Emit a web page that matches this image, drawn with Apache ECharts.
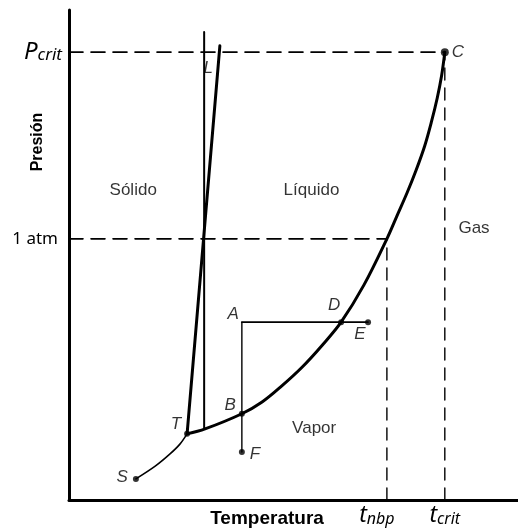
<!DOCTYPE html>
<html>
<head>
<meta charset="utf-8">
<script src="https://cdn.jsdelivr.net/npm/echarts@6/dist/echarts.min.js"></script>
<style>
html,body{margin:0;padding:0;background:#fff;}
#chart{width:518px;height:529px;}
</style>
</head>
<body>
<div id="chart"></div>
<script>
// Phase diagram data (arbitrary units: temperature 0-100, pressure 0-100)
const vaporCurve = [[26.3,13.5],[30.3,14.5],[38.5,17.6],[43.0,20.0],[47.4,23.3],[51.9,27.1],[56.4,31.6],[60.6,36.3],[65.7,43.9],[70.8,53.3],[73.0,57.9],[75.3,62.7],[77.3,67.3],[79.2,72.2],[80.7,77.1],[82.0,82.0],[83.0,86.7],[83.7,91.4]];
const sublimationCurve = [[14.9,4.3],[19.2,6.9],[22.5,9.4],[24.7,11.4],[26.3,13.5]];
const fusionLine = [[26.3,13.5],[33.6,92.7]];
const referenceVertical = [[30.1,14.7],[30.1,95.5]];
const pathAE = [[38.5,36.3],[66.6,36.3]];
const pathAF = [[38.5,36.3],[38.5,9.8]];
const pCrit = 91.4, pAtm = 53.3, tNbp = 70.8, tCrit = 83.7;
const yTickValues = [pAtm, pCrit];
const yTickLabels = ['1 atm{g|}', '{p|P}{s|crit}'];
const xTickValues = [tNbp, tCrit];
const xTickLabels = ['{t|t}{s|nbp}{g|}', '{t|t}{s|crit}'];
const pointNames = ['T','B','D','E','F','S','C','A','L'];
const pointCoords = [[26.3,13.5],[38.5,17.6],[60.6,36.3],[66.6,36.3],[38.5,9.8],[14.9,4.3],[83.7,91.4],[38.5,36.3],[31.0,88.2]];
const regionNames = ['Sólido','Líquido','Gas','Vapor'];
const regionCoords = [[14.3,63.1],[54.0,63.1],[90.2,55.5],[54.6,14.7]];

const labelPlacement = {
  T:{position:'left', offset:[0,-10], size:6},
  B:{position:'left', offset:[0,-8], size:6},
  D:{position:'top', offset:[-7,-2], size:6},
  E:{position:'bottom', offset:[-8,-2], size:6},
  F:{position:'right', offset:[2,2], size:6},
  S:{position:'left', offset:[-2,-2], size:6},
  C:{position:'right', offset:[0,0], size:8},
  A:{position:'left', offset:[0,-8], size:0},
  L:{position:'inside', offset:[0,0], size:0}
};

const chart = echarts.init(document.getElementById('chart'));
const black = '#000';
function line(data, width, type, smooth) {
  return {type:'line', data:data, showSymbol:false, symbol:'none', smooth:smooth||false,
    lineStyle:{color:black, width:width, type:type||'solid', cap:'round'}, silent:true, z:3};
}
const dashStyle = [14, 8];
const option = {
  animation:false,
  grid:{left:69, right:0, top:10, bottom:29},
  xAxis:{type:'value', min:0, max:100,
    axisLine:{show:true, onZero:false, lineStyle:{color:black, width:3}},
    axisTick:{show:false}, splitLine:{show:false},
    axisLabel:{customValues:xTickValues, margin:4,
      formatter:function(v){const i=xTickValues.indexOf(v); return i>=0?xTickLabels[i]:'';},
      rich:{t:{fontSize:23, fontStyle:'italic', fontFamily:'Noto Sans', color:black},
            s:{fontSize:16, fontStyle:'italic', fontFamily:'Noto Sans', color:black, verticalAlign:'bottom', padding:[6,0,0,0]},
            g:{width:20}}}
  },
  yAxis:{type:'value', min:0, max:100,
    axisLine:{show:true, onZero:false, lineStyle:{color:black, width:3}},
    axisTick:{show:false}, splitLine:{show:false},
    axisLabel:{customValues:yTickValues, margin:7,
      formatter:function(v){const i=yTickValues.indexOf(v); return i>=0?yTickLabels[i]:'';},
      fontSize:17, fontFamily:'Noto Sans', color:black,
      rich:{p:{fontSize:24, fontStyle:'italic', fontFamily:'Noto Sans', color:black},
            s:{fontSize:17, fontStyle:'italic', fontFamily:'Noto Sans', color:black, padding:[6,0,0,0]},
            g:{width:4}}}
  },
  graphic:[
    {type:'text', x:267, y:519, style:{text:'Temperatura', font:'bold 19px "Liberation Sans"', fill:black, align:'center', verticalAlign:'middle'}},
    {type:'text', x:38, y:142, rotation:Math.PI/2, style:{text:'Presión', font:'bold 16px "Liberation Sans"', fill:black, align:'center', verticalAlign:'middle'}}
  ],
  series:[
    line([[0,pCrit],[tCrit,pCrit]], 1.6, dashStyle),
    line([[0,pAtm],[tNbp,pAtm]], 1.6, dashStyle),
    line([[tNbp,0],[tNbp,pAtm]], 1.4, [12,8]),
    line([[tCrit,0],[tCrit,pCrit]], 1.4, [12,8]),
    line(referenceVertical, 2),
    line(fusionLine, 3),
    line(vaporCurve, 3, 'solid', 0.35),
    line(sublimationCurve, 1.6, 'solid', 0.3),
    line(pathAE, 1.6),
    line(pathAF, 1.4),
    {type:'scatter', z:5, silent:true,
      data:pointNames.map(function(n,i){const p=labelPlacement[n]; return {name:n, value:pointCoords[i], symbolSize:p.size,
        label:{show:true, formatter:n, position:p.position, offset:p.offset, distance:3}};}),
      itemStyle:{color:black},
      label:{fontSize:17, fontStyle:'italic', fontFamily:'Liberation Sans', color:black}
    },
    {type:'scatter', z:5, silent:true, symbolSize:0,
      data:regionNames.map(function(n,i){return {name:n, value:regionCoords[i]};}),
      label:{show:true, position:'inside', formatter:'{b}', fontSize:17, fontFamily:'Liberation Sans', color:black}
    }
  ]
};
chart.setOption(option);
</script>
</body>
</html>
